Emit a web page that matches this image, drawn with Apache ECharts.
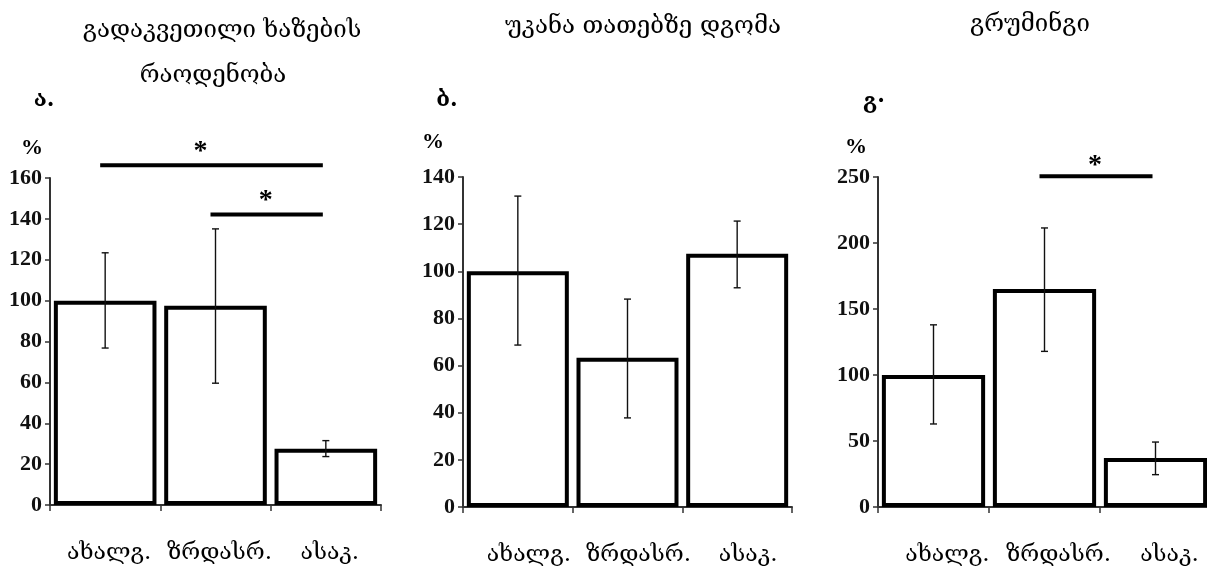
<!DOCTYPE html>
<html>
<head>
<meta charset="utf-8">
<script src="https://cdn.jsdelivr.net/npm/echarts@6/dist/echarts.min.js"></script>
<style>
  html, body { margin: 0; padding: 0; background: #fff; }
  #chart { width: 1207px; height: 573px; }
</style>
</head>
<body>
<div id="chart"></div>
<script>
// Group labels shared by the three panels
const categories = ['ახალგ.', 'ზრდასრ.', 'ასაკ.'];

// Panel titles and letters
const titleA = ['გადაკვეთილი ხაზების', 'რაოდენობა'];
const titleB = ['უკანა თათებზე დგომა'];
const titleC = ['გრუმინგი'];
const letters = ['ა.', 'ბ.', 'გ·'];

// Panel ა: crossed lines count (% of young)
const meanA = [100, 97.5, 27.5];
const lowA = [76.8, 59.6, 23.7];
const highA = [123.4, 135.1, 31.5];

// Panel ბ: rearing on hind paws
const meanB = [100, 63.3, 107.4];
const lowB = [68.7, 37.8, 93];
const highB = [131.9, 88.2, 121.3];

// Panel გ: grooming
const meanC = [100, 165.2, 37.1];
const lowC = [62.9, 117.9, 24.5];
const highC = [138, 211.4, 49.2];

// Value axis ranges and tick steps
const yMaxes = [160, 140, 250];
const ySteps = [20, 20, 50];

// Significance brackets: [from group, to group, bar level, star level]
const sigA = [[0, 2, 166.2, 176], [1, 2, 142.2, 152]];
const sigB = [];
const sigC = [[1, 2, 250.5, 263]];

const serif = '"Liberation Serif", "Times New Roman", serif';
const geo = '"DejaVu Serif", "DejaVu Sans", serif';

const grids = [
  { left: 50, top: 178, width: 331, height: 327, outerBoundsMode: 'none' },
  { left: 463, top: 177, width: 329, height: 330, outerBoundsMode: 'none' },
  { left: 878, top: 177, width: 333, height: 330, outerBoundsMode: 'none' }
];
const labelShift = [8, 22, 28];

const chart = echarts.init(document.getElementById('chart'), null, { renderer: 'canvas' });

const xAxes = grids.map((g, i) => ({
  type: 'category',
  gridIndex: i,
  data: categories,
  axisLine: { lineStyle: { color: '#333', width: 2 } },
  axisTick: { show: true, length: 6, lineStyle: { color: '#333', width: 1.5 } },
  axisLabel: {
    interval: 0,
    hideOverlap: false,
    margin: 37,
    fontFamily: geo,
    fontSize: 23,
    color: '#000',
    padding: [0, 0, 0, labelShift[i]]
  }
}));

const yAxes = grids.map((g, i) => ({
  type: 'value',
  gridIndex: i,
  min: 0,
  max: yMaxes[i],
  interval: ySteps[i],
  splitLine: { show: false },
  axisLine: { show: true, lineStyle: { color: '#333', width: 2 } },
  axisTick: { show: true, length: 5, lineStyle: { color: '#333', width: 1.5 } },
  axisLabel: {
    margin: 8,
    fontFamily: serif,
    fontWeight: 'bold',
    fontSize: 22,
    color: '#111'
  }
}));

function errorRender(params, api) {
  const x = api.value(0);
  const lo = api.coord([x, api.value(1)]);
  const hi = api.coord([x, api.value(2)]);
  const cap = 3.5;
  const st = { stroke: '#111', lineWidth: 1.4 };
  return {
    type: 'group',
    children: [
      { type: 'line', shape: { x1: hi[0], y1: hi[1], x2: lo[0], y2: lo[1] }, style: st },
      { type: 'line', shape: { x1: hi[0] - cap, y1: hi[1], x2: hi[0] + cap, y2: hi[1] }, style: st },
      { type: 'line', shape: { x1: lo[0] - cap, y1: lo[1], x2: lo[0] + cap, y2: lo[1] }, style: st }
    ]
  };
}

function sigRender(params, api) {
  const a = api.coord([api.value(0), api.value(2)]);
  const b = api.coord([api.value(1), api.value(2)]);
  const s = api.coord([api.value(0), api.value(3)]);
  const shift = params.dataIndex === 0 && api.value(0) === 0 ? -15 : -5;
  return {
    type: 'group',
    children: [
      { type: 'line', shape: { x1: a[0] - 5, y1: a[1], x2: b[0] - 3, y2: b[1] },
        style: { stroke: '#000', lineWidth: 4 } },
      { type: 'text', style: {
          text: '*', x: (a[0] + b[0]) / 2 + shift, y: s[1] + 6,
          align: 'center', verticalAlign: 'middle',
          fontFamily: serif, fontWeight: 'bold', fontSize: 28, fill: '#000' } }
    ]
  };
}

const panels = [
  [meanA, lowA, highA, sigA],
  [meanB, lowB, highB, sigB],
  [meanC, lowC, highC, sigC]
];

const series = [];
panels.forEach((p, i) => {
  series.push({
    type: 'bar',
    xAxisIndex: i,
    yAxisIndex: i,
    data: p[0],
    barWidth: '93%',
    itemStyle: { color: '#fff', borderColor: '#000', borderWidth: 4 },
    silent: true,
    z: 2
  });
  series.push({
    type: 'custom',
    xAxisIndex: i,
    yAxisIndex: i,
    data: p[0].map((_, k) => [k, p[1][k], p[2][k]]),
    encode: { x: 0, y: [1, 2] },
    renderItem: errorRender,
    silent: true,
    z: 3
  });
  if (p[3].length) {
    series.push({
      type: 'custom',
      xAxisIndex: i,
      yAxisIndex: i,
      data: p[3],
      encode: { x: [0, 1], y: 2 },
      renderItem: sigRender,
      clip: false,
      silent: true,
      z: 4
    });
  }
});

function txt(text, x, y, font, size, weight) {
  return {
    type: 'text', x: x, y: y,
    style: { text: text, align: 'center', verticalAlign: 'middle',
             fontFamily: font, fontSize: size, fontWeight: weight || 'normal', fill: '#000' }
  };
}

const graphics = [
  txt(titleA[0], 222, 31, geo, 24),
  txt(titleA[1], 213, 76, geo, 24),
  txt(titleB[0], 643, 27, geo, 24),
  txt(titleC[0], 1030, 25, geo, 24),
  txt(letters[0], 44, 100, geo, 22, 'bold'),
  txt(letters[1], 447, 100, geo, 22, 'bold'),
  txt(letters[2], 874, 102, geo, 22, 'bold'),
  txt('%', 32, 148, serif, 22, 'bold'),
  txt('%', 433, 142, serif, 22, 'bold'),
  txt('%', 856, 147, serif, 22, 'bold')
];

chart.setOption({
  animation: false,
  backgroundColor: '#fff',
  grid: grids,
  xAxis: xAxes,
  yAxis: yAxes,
  series: series,
  graphic: graphics
});
</script>
</body>
</html>
